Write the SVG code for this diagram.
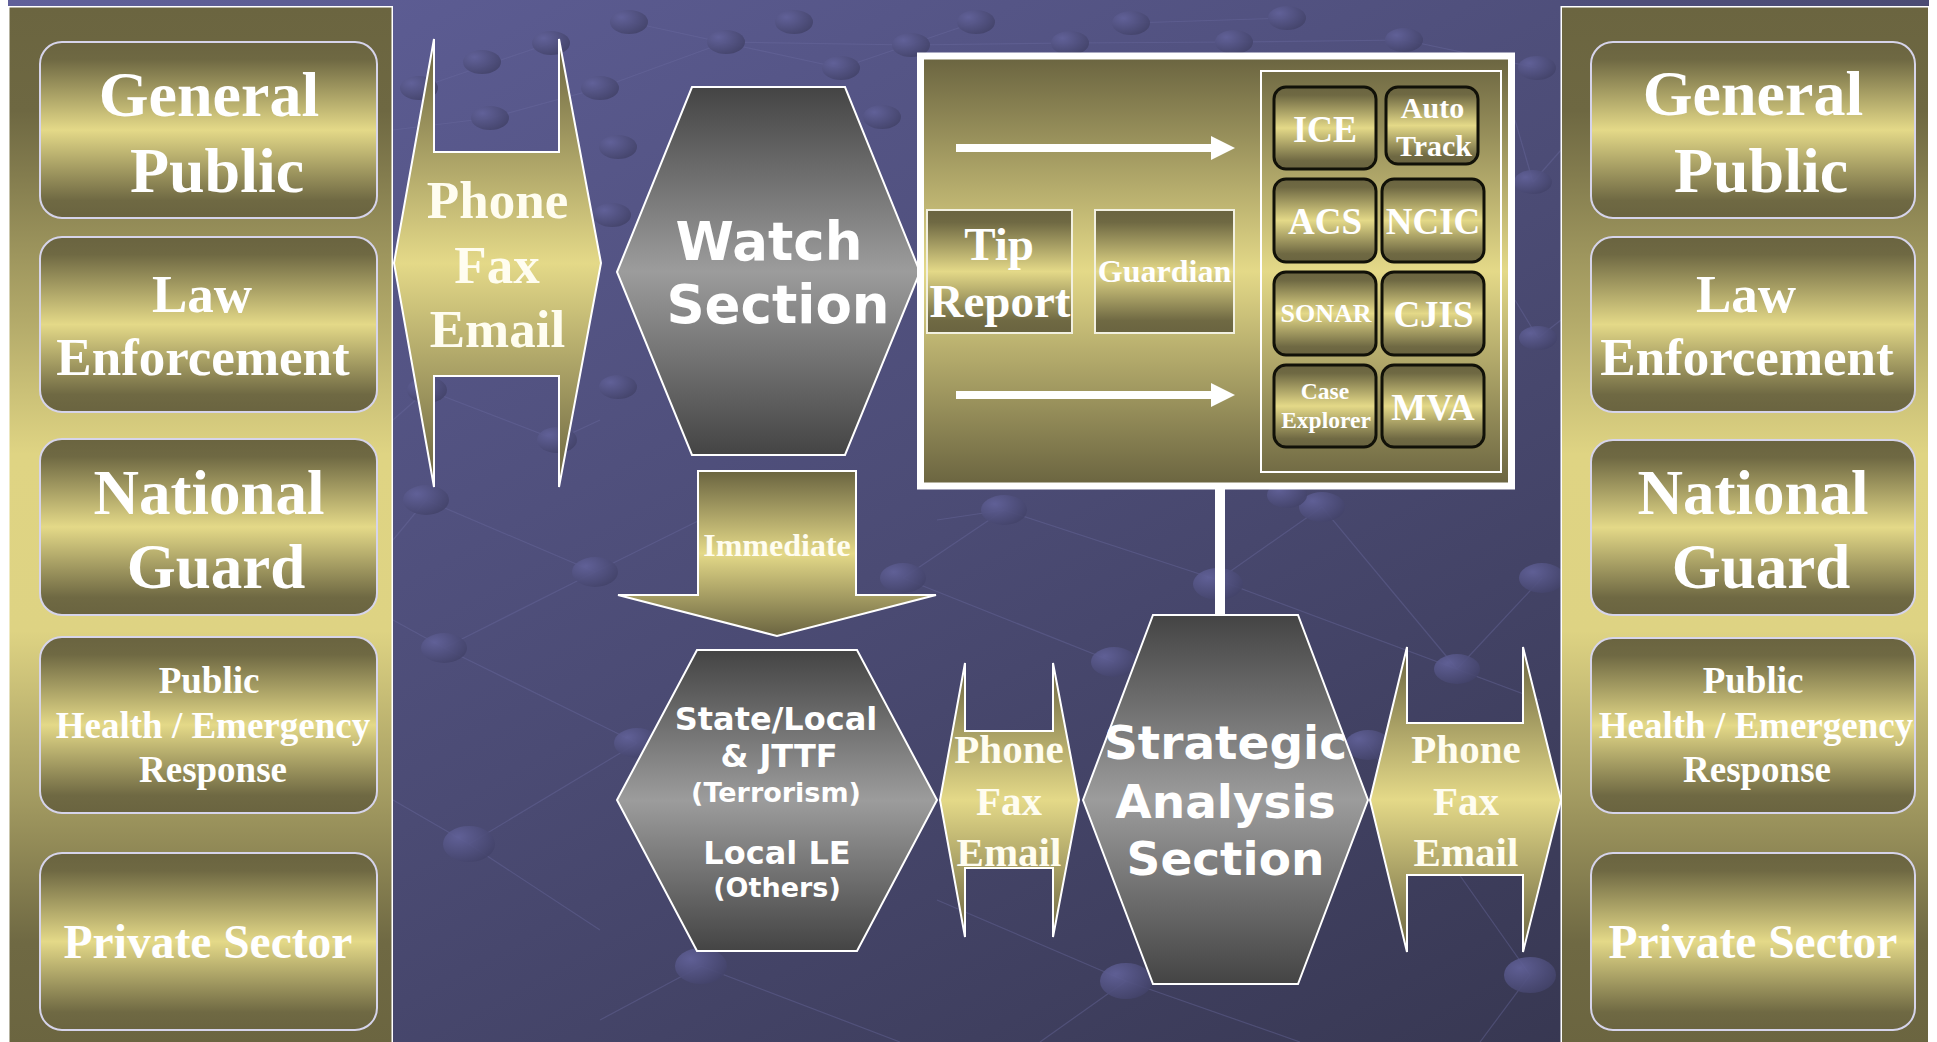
<svg xmlns="http://www.w3.org/2000/svg" width="1937" height="1042" viewBox="0 0 1937 1042">
<defs>
<linearGradient id="bg" x1="0" y1="0" x2="1" y2="1">
<stop offset="0" stop-color="#60609a"/>
<stop offset="0.5" stop-color="#4b4b74"/>
<stop offset="1" stop-color="#33334a"/>
</linearGradient>
<linearGradient id="gold" x1="0" y1="0" x2="0" y2="1">
<stop offset="0" stop-color="#6a6440"/>
<stop offset="0.1" stop-color="#6f6943"/>
<stop offset="0.5" stop-color="#e4d988"/>
<stop offset="0.9" stop-color="#6f6943"/>
<stop offset="1" stop-color="#6a6440"/>
</linearGradient>
<linearGradient id="goldSoft" x1="0" y1="0" x2="0" y2="1">
<stop offset="0" stop-color="#6a6440"/>
<stop offset="0.5" stop-color="#e4d988"/>
<stop offset="1" stop-color="#6a6440"/>
</linearGradient>
<linearGradient id="panel" x1="0" y1="0" x2="0" y2="1">
<stop offset="0" stop-color="#6b6540"/>
<stop offset="0.1" stop-color="#6e6842"/>
<stop offset="0.43" stop-color="#dfd483"/>
<stop offset="0.6" stop-color="#ded383"/>
<stop offset="0.9" stop-color="#6f6943"/>
<stop offset="1" stop-color="#6b6540"/>
</linearGradient>
<linearGradient id="gray" x1="0" y1="0" x2="0" y2="1">
<stop offset="0" stop-color="#444444"/>
<stop offset="0.5" stop-color="#9c9c9c"/>
<stop offset="1" stop-color="#444444"/>
</linearGradient>
<radialGradient id="dot" cx="0.3" cy="0.3" r="0.8">
<stop offset="0" stop-color="#62629a"/>
<stop offset="1" stop-color="#424268"/>
</radialGradient>
<marker id="head" markerUnits="userSpaceOnUse" viewBox="0 0 24 24" refX="0" refY="12" markerWidth="24" markerHeight="24" orient="auto">
<path d="M0,0 L24,12 L0,24 Z" fill="#ffffff"/>
</marker>
<style>
.serif{font-family:"Liberation Serif","Times New Roman",serif;font-weight:bold;fill:#ffffff;text-anchor:middle}
.sans{font-family:"DejaVu Sans",Verdana,sans-serif;font-weight:bold;fill:#ffffff;text-anchor:middle}
.cream{fill:#fffdf0}
.sidebox{fill:url(#gold);stroke:#d6d4ea;stroke-width:2}
.panel{fill:url(#panel);stroke:#ffffff;stroke-width:1.5}
.dblarrow{fill:url(#goldSoft);stroke:#ffffff;stroke-width:2}
.hex{fill:url(#gray);stroke:#ffffff;stroke-width:2}
.sys{fill:url(#gold);stroke:#111108;stroke-width:3}
.tip{fill:url(#gold);stroke:#f2f0e0;stroke-width:2}
.dots ellipse{fill:url(#dot);opacity:0.9}
.net line{stroke:#6c6ca0;stroke-width:1.2;stroke-opacity:0.4}
.conn{stroke:#ffffff;fill:none}
</style>
</defs>

<!-- background -->
<rect x="0" y="0" width="1937" height="1042" fill="#ffffff"/>
<rect x="8" y="0" width="1921" height="1042" fill="url(#bg)"/>
<g class="net">
<line x1="393" y1="130" x2="490" y2="118"/>
<line x1="490" y1="118" x2="600" y2="88"/>
<line x1="419" y1="88" x2="551" y2="43"/>
<line x1="600" y1="88" x2="726" y2="42"/>
<line x1="629" y1="22" x2="841" y2="68"/>
<line x1="841" y1="68" x2="976" y2="22"/>
<line x1="726" y1="42" x2="911" y2="45"/>
<line x1="911" y1="45" x2="1070" y2="43"/>
<line x1="1070" y1="43" x2="1234" y2="42"/>
<line x1="1131" y1="23" x2="1287" y2="18"/>
<line x1="1234" y1="42" x2="1404" y2="40"/>
<line x1="1404" y1="40" x2="1537" y2="68"/>
<line x1="1515" y1="120" x2="1533" y2="182"/>
<line x1="1533" y1="182" x2="1561" y2="150"/>
<line x1="1515" y1="300" x2="1538" y2="338"/>
<line x1="1538" y1="338" x2="1561" y2="320"/>
<line x1="393" y1="420" x2="427" y2="390"/>
<line x1="427" y1="390" x2="557" y2="440"/>
<line x1="557" y1="440" x2="600" y2="420"/>
<line x1="393" y1="540" x2="426" y2="500"/>
<line x1="426" y1="500" x2="595" y2="572"/>
<line x1="393" y1="620" x2="444" y2="648"/>
<line x1="444" y1="648" x2="595" y2="572"/>
<line x1="595" y1="572" x2="700" y2="520"/>
<line x1="444" y1="648" x2="637" y2="743"/>
<line x1="393" y1="800" x2="469" y2="844"/>
<line x1="469" y1="844" x2="637" y2="743"/>
<line x1="469" y1="844" x2="600" y2="930"/>
<line x1="600" y1="1020" x2="701" y2="966"/>
<line x1="701" y1="966" x2="900" y2="1042"/>
<line x1="937" y1="520" x2="1004" y2="510"/>
<line x1="1004" y1="510" x2="1218" y2="580"/>
<line x1="903" y1="578" x2="1004" y2="510"/>
<line x1="903" y1="578" x2="1114" y2="662"/>
<line x1="1218" y1="580" x2="1322" y2="507"/>
<line x1="1322" y1="507" x2="1457" y2="669"/>
<line x1="1218" y1="580" x2="1540" y2="700"/>
<line x1="1457" y1="669" x2="1542" y2="578"/>
<line x1="1126" y1="981" x2="1040" y2="1042"/>
<line x1="1126" y1="981" x2="1300" y2="1042"/>
<line x1="1368" y1="745" x2="1530" y2="975"/>
<line x1="1530" y1="975" x2="1480" y2="1042"/>
<line x1="937" y1="900" x2="1126" y2="981"/>
</g>
<g class="dots">
<ellipse cx="419" cy="88" rx="19" ry="12"/>
<ellipse cx="482" cy="62" rx="19" ry="12"/>
<ellipse cx="551" cy="43" rx="19" ry="12"/>
<ellipse cx="600" cy="88" rx="19" ry="12"/>
<ellipse cx="490" cy="118" rx="19" ry="12"/>
<ellipse cx="629" cy="22" rx="19" ry="12"/>
<ellipse cx="726" cy="42" rx="19" ry="12"/>
<ellipse cx="794" cy="22" rx="19" ry="12"/>
<ellipse cx="841" cy="68" rx="19" ry="12"/>
<ellipse cx="911" cy="45" rx="19" ry="12"/>
<ellipse cx="976" cy="22" rx="19" ry="12"/>
<ellipse cx="1070" cy="43" rx="19" ry="12"/>
<ellipse cx="1131" cy="23" rx="19" ry="12"/>
<ellipse cx="1234" cy="42" rx="19" ry="12"/>
<ellipse cx="1287" cy="18" rx="19" ry="12"/>
<ellipse cx="1404" cy="40" rx="19" ry="12"/>
<ellipse cx="1537" cy="68" rx="19" ry="12"/>
<ellipse cx="618" cy="147" rx="19" ry="12"/>
<ellipse cx="882" cy="117" rx="19" ry="12"/>
<ellipse cx="612" cy="215" rx="19" ry="12"/>
<ellipse cx="618" cy="387" rx="19" ry="12"/>
<ellipse cx="1533" cy="182" rx="19" ry="12"/>
<ellipse cx="1538" cy="338" rx="19" ry="12"/>
<ellipse cx="427" cy="390" rx="20" ry="13"/>
<ellipse cx="557" cy="440" rx="20" ry="13"/>
<ellipse cx="426" cy="500" rx="23" ry="15"/>
<ellipse cx="595" cy="572" rx="23" ry="15"/>
<ellipse cx="444" cy="648" rx="23" ry="15"/>
<ellipse cx="469" cy="844" rx="26" ry="18"/>
<ellipse cx="1004" cy="510" rx="23" ry="15"/>
<ellipse cx="1322" cy="507" rx="23" ry="15"/>
<ellipse cx="903" cy="578" rx="23" ry="15"/>
<ellipse cx="1218" cy="584" rx="25" ry="16"/>
<ellipse cx="1542" cy="578" rx="23" ry="15"/>
<ellipse cx="1114" cy="662" rx="23" ry="15"/>
<ellipse cx="1457" cy="669" rx="23" ry="15"/>
<ellipse cx="637" cy="743" rx="23" ry="15"/>
<ellipse cx="1368" cy="745" rx="23" ry="15"/>
<ellipse cx="701" cy="966" rx="26" ry="18"/>
<ellipse cx="1126" cy="981" rx="26" ry="18"/>
<ellipse cx="1530" cy="975" rx="26" ry="18"/>
<ellipse cx="1287" cy="495" rx="20" ry="13"/>
</g>

<!-- left panel -->
<g id="left-panel">
<rect class="panel" x="8.75" y="6.75" width="383.5" height="1040"/>
<g id="left-general-public">
<rect class="sidebox" x="40" y="42" width="337" height="176" rx="22"/>
<text class="serif" font-size="64" x="209" y="116">General</text>
<text class="serif" font-size="64" x="217" y="192">Public</text>
</g>
<g id="left-law-enforcement">
<rect class="sidebox" x="40" y="237" width="337" height="175" rx="22"/>
<text class="serif" font-size="53" x="202" y="312">Law</text>
<text class="serif" font-size="53" x="203" y="375">Enforcement</text>
</g>
<g id="left-national-guard">
<rect class="sidebox" x="40" y="439" width="337" height="176" rx="22"/>
<text class="serif" font-size="63" x="209" y="514">National</text>
<text class="serif" font-size="63" x="216" y="588">Guard</text>
</g>
<g id="left-public-health">
<rect class="sidebox" x="40" y="637" width="337" height="176" rx="22"/>
<text class="serif" font-size="37" x="209" y="693">Public</text>
<text class="serif" font-size="37" x="213" y="738">Health / Emergency</text>
<text class="serif" font-size="37" x="213" y="782">Response</text>
</g>
<g id="left-private-sector">
<rect class="sidebox" x="40" y="853" width="337" height="177" rx="22"/>
<text class="serif" font-size="47.5" x="208" y="958">Private Sector</text>
</g>
</g>

<!-- right panel -->
<g id="right-panel">
<rect class="panel" x="1561.25" y="6.75" width="367.5" height="1040"/>
<g id="right-general-public">
<rect class="sidebox" x="1591" y="42" width="324" height="176" rx="22"/>
<text class="serif" font-size="64" x="1753" y="115">General</text>
<text class="serif" font-size="64" x="1761" y="192">Public</text>
</g>
<g id="right-law-enforcement">
<rect class="sidebox" x="1591" y="237" width="324" height="175" rx="22"/>
<text class="serif" font-size="53" x="1746" y="312">Law</text>
<text class="serif" font-size="53" x="1747" y="375">Enforcement</text>
</g>
<g id="right-national-guard">
<rect class="sidebox" x="1591" y="440" width="324" height="175" rx="22"/>
<text class="serif" font-size="63" x="1753" y="514">National</text>
<text class="serif" font-size="63" x="1761" y="588">Guard</text>
</g>
<g id="right-public-health">
<rect class="sidebox" x="1591" y="638" width="324" height="175" rx="22"/>
<text class="serif" font-size="37" x="1753" y="693">Public</text>
<text class="serif" font-size="37" x="1756" y="738">Health / Emergency</text>
<text class="serif" font-size="37" x="1757" y="782">Response</text>
</g>
<g id="right-private-sector">
<rect class="sidebox" x="1591" y="853" width="324" height="177" rx="22"/>
<text class="serif" font-size="47.5" x="1753" y="958">Private Sector</text>
</g>
</g>

<!-- comms arrow top-left -->
<g id="comms-left">
<path class="dblarrow" d="M394,263 L434,39 L434,152 L559,152 L559,39 L601,263 L559,487 L559,376 L434,376 L434,487 Z"/>
<text class="serif cream" font-size="53" x="497.5" y="218">Phone</text>
<text class="serif cream" font-size="53" x="497" y="283">Fax</text>
<text class="serif cream" font-size="53" x="497.5" y="347">Email</text>
</g>

<!-- watch section -->
<g id="watch-section">
<path class="hex" d="M617,272 L692,87 L845,87 L920,272 L845,455 L692,455 Z"/>
<text class="sans" font-size="53" x="769" y="260">Watch</text>
<text class="sans" font-size="53" x="778" y="323">Section</text>
</g>

<!-- systems box -->
<g id="systems-box">
<rect x="920.5" y="56" width="591" height="430" fill="url(#goldSoft)" stroke="#ffffff" stroke-width="7"/>
<rect x="1261" y="71" width="240" height="401" fill="none" stroke="#ffffff" stroke-width="2"/>
</g>
<g id="tip-report">
<rect class="tip" x="927" y="210" width="145" height="123"/>
<text class="serif" font-size="47" x="999" y="260">Tip</text>
<text class="serif" font-size="47" x="1000" y="317">Report</text>
</g>
<g id="guardian">
<rect class="tip" x="1095" y="210" width="139" height="123"/>
<text class="serif" font-size="32" x="1164.5" y="282">Guardian</text>
</g>
<g id="ice">
<rect class="sys" x="1274" y="87" width="102" height="82" rx="12"/>
<text class="serif" font-size="37" x="1325" y="142" textLength="64" lengthAdjust="spacingAndGlyphs">ICE</text>
</g>
<g id="autotrack">
<rect class="sys" x="1386" y="87" width="92" height="77" rx="12"/>
<text class="serif" font-size="30" x="1432.5" y="118">Auto</text>
<text class="serif" font-size="30" x="1434" y="155.5">Track</text>
</g>
<g id="acs">
<rect class="sys" x="1274" y="179" width="102" height="83" rx="12"/>
<text class="serif" font-size="37" x="1325" y="234">ACS</text>
</g>
<g id="ncic">
<rect class="sys" x="1382" y="179" width="102" height="83" rx="12"/>
<text class="serif" font-size="37" x="1433" y="234">NCIC</text>
</g>
<g id="sonar">
<rect class="sys" x="1274" y="272" width="102" height="83" rx="12"/>
<text class="serif" font-size="26" x="1326" y="322">SONAR</text>
</g>
<g id="cjis">
<rect class="sys" x="1382" y="272" width="102" height="83" rx="12"/>
<text class="serif" font-size="37" x="1433.5" y="326.5">CJIS</text>
</g>
<g id="case-explorer">
<rect class="sys" x="1274" y="365" width="102" height="82" rx="12"/>
<text class="serif" font-size="23.5" x="1325" y="399">Case</text>
<text class="serif" font-size="23.5" x="1326" y="428">Explorer</text>
</g>
<g id="mva">
<rect class="sys" x="1382" y="365" width="102" height="82" rx="12"/>
<text class="serif" font-size="37" x="1433" y="420">MVA</text>
</g>

<!-- immediate arrow -->
<g id="immediate">
<path class="dblarrow" d="M698,471 L856,471 L856,595 L936,595 L777,636 L618,595 L698,595 Z"/>
<text class="serif cream" font-size="32" x="777" y="556">Immediate</text>
</g>

<!-- state/local -->
<g id="state-local">
<path class="hex" d="M617,800 L697,650 L857,650 L937,800 L857,951 L697,951 Z"/>
<text class="sans" font-size="32" x="776" y="730">State/Local</text>
<text class="sans" font-size="32" x="779" y="767">&amp; JTTF</text>
<text class="sans" font-size="27" x="776" y="802">(Terrorism)</text>
<text class="sans" font-size="32" x="777" y="864">Local LE</text>
<text class="sans" font-size="27" x="777" y="897">(Others)</text>
</g>

<!-- comms middle -->
<g id="comms-middle">
<path class="dblarrow" d="M940,800 L965,663 L965,731 L1053,731 L1053,663 L1079,800 L1053,937 L1053,868 L965,868 L965,937 Z"/>
<text class="serif cream" font-size="41" x="1009" y="763">Phone</text>
<text class="serif cream" font-size="41" x="1009" y="815">Fax</text>
<text class="serif cream" font-size="41" x="1009" y="866">Email</text>
</g>

<!-- strategic analysis -->
<g id="strategic-analysis">
<path class="hex" d="M1083,800 L1153,615 L1298,615 L1368,800 L1298,984 L1153,984 Z"/>
<text class="sans" font-size="47" x="1225.5" y="759">Strategic</text>
<text class="sans" font-size="47" x="1225.5" y="818">Analysis</text>
<text class="sans" font-size="47" x="1225.5" y="875">Section</text>
</g>

<!-- comms right -->
<g id="comms-right">
<path class="dblarrow" d="M1370,800 L1407,647 L1407,723 L1523,723 L1523,647 L1561,800 L1523,952 L1523,875 L1407,875 L1407,952 Z"/>
<text class="serif cream" font-size="41" x="1466" y="763">Phone</text>
<text class="serif cream" font-size="41" x="1466" y="815">Fax</text>
<text class="serif cream" font-size="41" x="1466" y="866">Email</text>
</g>

<!-- connectors -->
<g id="connectors">
<line class="conn" x1="1220" y1="489" x2="1220" y2="616" stroke-width="10"/>
<line class="conn" x1="956" y1="148" x2="1211" y2="148" stroke-width="8" marker-end="url(#head)"/>
<line class="conn" x1="956" y1="395" x2="1211" y2="395" stroke-width="8" marker-end="url(#head)"/>
</g>
</svg>
